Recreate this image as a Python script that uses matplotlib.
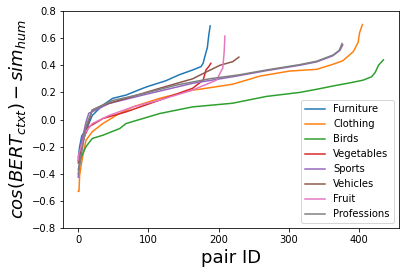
import matplotlib
matplotlib.use('Agg')
import matplotlib.pyplot as plt

# values at sample positions (sorted per category)
furniture_x = [0, 2, 5, 11, 20, 35, 49, 68, 92, 100, 125, 144, 163, 175, 178, 181, 184, 186, 188]
furniture_y = [-0.28, -0.2, -0.12, -0.08, 0.03, 0.106, 0.156, 0.18, 0.23, 0.245, 0.286, 0.33, 0.365, 0.39, 0.415, 0.475, 0.53, 0.62, 0.69]

clothing_x = [0, 1, 2, 6, 11, 20, 35, 54, 78, 116, 163, 173, 220, 259, 301, 340, 363, 377, 392, 399, 401, 405]
clothing_y = [-0.53, -0.53, -0.41, -0.28, -0.153, -0.09, -0.03, 0.03, 0.093, 0.156, 0.217, 0.223, 0.26, 0.32, 0.357, 0.37, 0.407, 0.433, 0.50, 0.57, 0.64, 0.70]

birds_x = [0, 4, 11, 20, 35, 59, 68, 116, 163, 220, 268, 316, 340, 363, 387, 406, 418, 423, 428, 435]
birds_y = [-0.37, -0.28, -0.2, -0.14, -0.116, -0.067, -0.03, 0.044, 0.093, 0.12, 0.17, 0.20, 0.223, 0.247, 0.27, 0.29, 0.315, 0.345, 0.40, 0.44]

vegetables_x = [0, 6, 15, 35, 68, 116, 163, 178, 182, 186, 189]
vegetables_y = [-0.3, -0.153, -0.055, 0.007, 0.056, 0.143, 0.23, 0.29, 0.365, 0.39, 0.414]

sports_x = [0, 4, 11, 15, 25, 44, 92, 163, 220, 268, 316, 340, 363, 373, 377]
sports_y = [-0.425, -0.18, -0.02, 0.046, 0.07, 0.118, 0.18, 0.267, 0.315, 0.36, 0.40, 0.425, 0.47, 0.51, 0.55]

vehicles_x = [0, 1, 11, 20, 35, 68, 116, 163, 173, 202, 220, 229]
vehicles_y = [-0.32, -0.28, -0.08, 0.07, 0.106, 0.156, 0.23, 0.30, 0.326, 0.40, 0.426, 0.46]

fruit_x = [0, 1, 11, 20, 44, 78, 116, 163, 197, 203, 206, 208, 209]
fruit_y = [-0.3, -0.25, -0.09, -0.03, 0.03, 0.093, 0.143, 0.217, 0.29, 0.35, 0.38, 0.5, 0.615]

professions_x = [0, 1, 11, 20, 49, 92, 140, 187, 230, 268, 316, 340, 363, 372, 376]
professions_y = [-0.4, -0.37, -0.05, 0.07, 0.14, 0.19, 0.254, 0.30, 0.33, 0.365, 0.405, 0.43, 0.475, 0.51, 0.56]

series = [
    ('Furniture', furniture_x, furniture_y),
    ('Clothing', clothing_x, clothing_y),
    ('Birds', birds_x, birds_y),
    ('Vegetables', vegetables_x, vegetables_y),
    ('Sports', sports_x, sports_y),
    ('Vehicles', vehicles_x, vehicles_y),
    ('Fruit', fruit_x, fruit_y),
    ('Professions', professions_x, professions_y),
]

fig = plt.figure(figsize=(405 / 72, 274 / 72), dpi=72)
ax = fig.add_axes([63 / 405, 1 - 228 / 274, (398.7 - 63) / 405, (228 - 11) / 274])

for name, xs, ys in series:
    ax.plot(xs, ys, label=name)

ax.set_ylim(-0.8, 0.8)
ax.set_xlabel('pair ID', fontsize=18)
ax.set_ylabel(r'$cos(BERT_{ctxt}) - sim_{hum}$', fontsize=18)
ax.legend(loc='lower right')

fig.savefig('out.png', dpi=72)
